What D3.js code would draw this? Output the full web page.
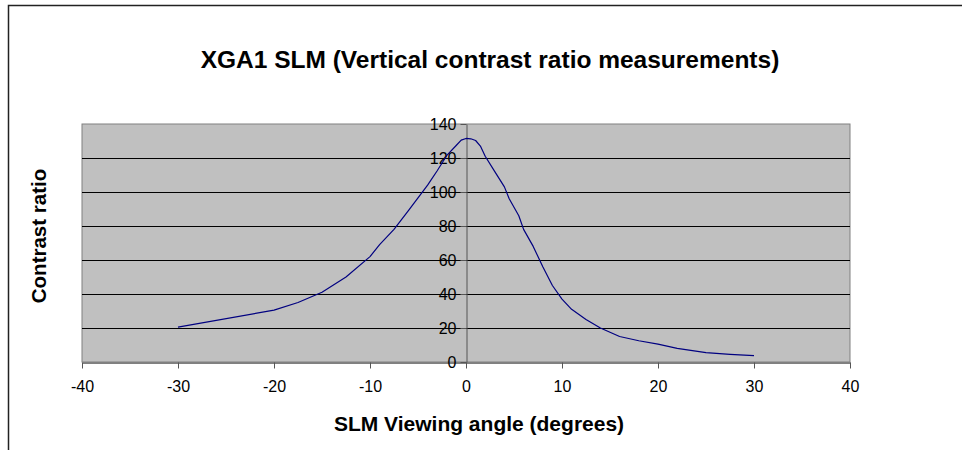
<!DOCTYPE html>
<html>
<head>
<meta charset="utf-8">
<script src="https://cdn.jsdelivr.net/npm/d3@7"></script>
<style>
  html, body { margin: 0; padding: 0; background: #fff; }
  svg { display: block; }
  text { font-family: "Liberation Sans", Arial, sans-serif; }
</style>
</head>
<body>
<svg id="chart" width="962" height="450"></svg>
<script>
const angles = [-30, -20, -17.5, -15, -12.5, -10, -9, -7.5, -6, -4, -3, -2, -1, -0.5, 0, 0.5, 1, 1.5, 2, 3, 4, 4.5, 5.5, 6, 7, 8, 9, 10, 11, 12.5, 14, 16, 18, 20, 22, 25, 27.5, 30];
const contrast = [20.5, 30.5, 35, 41, 50, 62, 69, 78, 89, 104, 112.5, 121.5, 127.5, 130.5, 131.5, 131.3, 130.3, 127, 121, 112, 103, 96, 86, 78, 68, 56, 45, 37, 31, 25, 20, 15, 12.5, 10.5, 8, 5.5, 4.5, 3.8];
const xTicks = [-40, -30, -20, -10, 0, 10, 20, 30, 40];
const yTicks = [0, 20, 40, 60, 80, 100, 120, 140];
const titleText = "XGA1 SLM (Vertical contrast ratio measurements)";
const xTitle = "SLM Viewing angle (degrees)";
const yTitle = "Contrast ratio";

const svg = d3.select("#chart");
const plot = { left: 82, right: 850, top: 124, bottom: 362 };

// outer chart frame
svg.append("path")
  .attr("d", "M8.5,460 L8.5,5.5 L970,5.5")
  .attr("fill", "none").attr("stroke", "#222").attr("stroke-width", 1.5);

const x = d3.scaleLinear().domain([-40, 40]).range([plot.left, plot.right]);
const y = d3.scaleLinear().domain([0, 140]).range([plot.bottom, plot.top]);

// plot background
svg.append("rect")
  .attr("x", plot.left).attr("y", plot.top)
  .attr("width", plot.right - plot.left).attr("height", plot.bottom - plot.top)
  .attr("fill", "#c0c0c0").attr("stroke", "#808080").attr("stroke-width", 1);

// gridlines
svg.append("g").selectAll("line").data(yTicks.filter(d => d > 0 && d < 140)).join("line")
  .attr("x1", plot.left).attr("x2", plot.right)
  .attr("y1", d => Math.round(y(d)) + 0.5).attr("y2", d => Math.round(y(d)) + 0.5)
  .attr("stroke", "#000").attr("stroke-width", 1);

// x axis at y=0
const xAxis = svg.append("g")
  .attr("transform", `translate(0,${Math.round(y(0)) + 0.5})`)
  .call(d3.axisBottom(x).tickValues(xTicks).tickSize(6).tickSizeOuter(0).tickFormat(d => String(d)));
xAxis.select(".domain").attr("stroke", "#808080").attr("stroke-width", 2);
xAxis.selectAll(".tick line").attr("stroke", "#555");
xAxis.selectAll(".tick text").attr("font-size", 16).attr("fill", "#000").attr("dy", "1.25em");

// y axis at x=0
const yAxis = svg.append("g")
  .attr("transform", `translate(${Math.round(x(0)) + 0.5},0)`)
  .call(d3.axisLeft(y).tickValues(yTicks).tickSize(6).tickSizeOuter(0).tickPadding(4).tickFormat(d => String(d)));
yAxis.select(".domain").attr("stroke", "#555").attr("stroke-width", 1);
yAxis.selectAll(".tick line").attr("stroke", "#555");
yAxis.selectAll(".tick text").attr("font-size", 16).attr("fill", "#000");

// line
const line = d3.line().x((d, i) => x(angles[i])).y(d => y(d));
svg.append("path").datum(contrast)
  .attr("d", line).attr("fill", "none").attr("stroke", "#000080").attr("stroke-width", 1.2)
  .attr("stroke-linejoin", "round");

// titles
svg.append("text").attr("x", 490).attr("y", 68).attr("text-anchor", "middle")
  .attr("font-size", 24.5).attr("font-weight", "bold").text(titleText);
svg.append("text").attr("x", 479).attr("y", 431).attr("text-anchor", "middle")
  .attr("font-size", 21).attr("font-weight", "bold").text(xTitle);
svg.append("text").attr("transform", "translate(46,236) rotate(-90)").attr("text-anchor", "middle")
  .attr("font-size", 20.5).attr("font-weight", "bold").text(yTitle);
</script>
</body>
</html>
